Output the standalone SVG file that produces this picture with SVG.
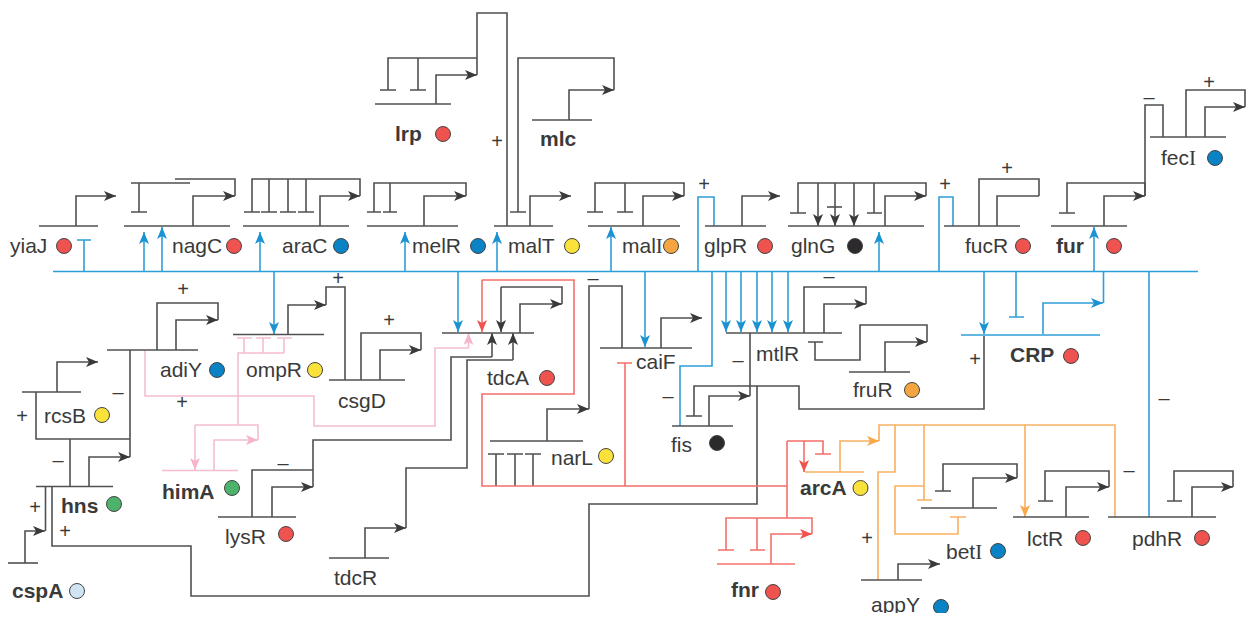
<svg xmlns="http://www.w3.org/2000/svg" width="1254" height="630" viewBox="0 0 1254 630">
<style>
text{font-family:"Liberation Sans",Arial,sans-serif;font-size:21px;fill:#3a3a3a}
.B{font-weight:bold}
.s{font-family:"Liberation Serif",serif}
.g{text-anchor:middle;font-size:20px}
path{fill:none;stroke-width:1.6;stroke-linejoin:miter}
.k{stroke:#505050}.b{stroke:#2d9fd8}.p{stroke:#f6bdd0}.r{stroke:#f4706a}.o{stroke:#f9b060}
.ka{stroke:#505050;marker-end:url(#ak)}.ba{stroke:#2d9fd8;marker-end:url(#ab)}.pa{stroke:#f6bdd0;marker-end:url(#ap)}.ra{stroke:#f4706a;marker-end:url(#ar)}.oa{stroke:#f9b060;marker-end:url(#ao)}
circle{stroke:#444;stroke-width:1}
.cr{fill:#ef5350}.cb{fill:#0a82c6}.cy{fill:#fbe23a}.co{fill:#f5a540}.cg{fill:#4db26a}.ck{fill:#2c2a2c}.cl{fill:#cfe5f4}
</style>
<defs>
<marker id="ak" markerUnits="userSpaceOnUse" markerWidth="14" markerHeight="12" refX="12" refY="6" orient="auto"><path d="M0,1 L12,6 L0,11 L3,6 Z" style="fill:#3a3a3a;stroke:none"/></marker>
<marker id="ab" markerUnits="userSpaceOnUse" markerWidth="14" markerHeight="12" refX="12" refY="6" orient="auto"><path d="M0,1 L12,6 L0,11 L3,6 Z" style="fill:#1b92d2;stroke:none"/></marker>
<marker id="ap" markerUnits="userSpaceOnUse" markerWidth="14" markerHeight="12" refX="12" refY="6" orient="auto"><path d="M0,1 L12,6 L0,11 L3,6 Z" style="fill:#f6b3ca;stroke:none"/></marker>
<marker id="ar" markerUnits="userSpaceOnUse" markerWidth="14" markerHeight="12" refX="12" refY="6" orient="auto"><path d="M0,1 L12,6 L0,11 L3,6 Z" style="fill:#f0524e;stroke:none"/></marker>
<marker id="ao" markerUnits="userSpaceOnUse" markerWidth="14" markerHeight="12" refX="12" refY="6" orient="auto"><path d="M0,1 L12,6 L0,11 L3,6 Z" style="fill:#f8a848;stroke:none"/></marker>
</defs>

<g id="connectors">
<!-- blue -->
<path class="b" d="M53 271.5H1198"/>
<path class="b" d="M84 271V240M77 240H91"/>
<path class="ba" d="M144 271V232"/>
<path class="ba" d="M162 271V227"/>
<path class="ba" d="M260 271V232"/>
<path class="ba" d="M274 271V334"/>
<path class="ba" d="M405 271V232"/>
<path class="ba" d="M458 271V332"/>
<path class="ba" d="M497 271V232"/>
<path class="ba" d="M611 271V227"/>
<path class="ba" d="M645 271V347"/>
<path class="b" d="M698 271V197H714V226"/>
<path class="b" d="M712 271V366H680V426"/>
<path class="ba" d="M726 271V332"/>
<path class="ba" d="M741 271V332"/>
<path class="ba" d="M757 271V332"/>
<path class="ba" d="M772 271V332"/>
<path class="ba" d="M788 271V332"/>
<path class="ba" d="M879 271V232"/>
<path class="b" d="M939 271V197H953V226"/>
<path class="ba" d="M984 271V334"/>
<path class="b" d="M1016 271V317M1009 317H1024"/>
<path class="ba" d="M1094 271V227"/>
<path class="ba" d="M1043 334V303H1103"/>
<path class="b" d="M1103.500 271V303"/>
<path class="b" d="M1149 271V517"/>
<!-- black: top -->
<path class="k" d="M131 183H190M139 183V212M131 212H147"/>
<path class="k" d="M175 179H235V196"/>
<path class="k" d="M360 196V179H252V212M244 212H260M269 179V212M261 212H277M288 179V212M280 212H296M306 179V212M298 212H314"/>
<path class="k" d="M466 196V183H374V212M367 212H381M390 183V212M383 212H397"/>
<path class="k" d="M507 226V13H477V75M477 58H388V90M380 90H396M418 58V90M410 90H426"/>
<path class="k" d="M518 212V58H614V90M510 212H526"/>
<path class="k" d="M684 196V183H595V212M587 212H603M625 183V212M617 212H633"/>
<path class="k" d="M926 196V183H798V213M790 213H806"/>
<path class="ka" d="M818 183V226"/>
<path class="ka" d="M835 183V226"/>
<path class="k" d="M827 207H842"/>
<path class="ka" d="M854 183V226"/>
<path class="k" d="M874 183V213M867 213H882"/>
<path class="k" d="M979 226V179H1039V196"/>
<path class="k" d="M1145 196V183H1067V213M1059 213H1075"/>
<path class="k" d="M1145 196V105H1163V137"/>
<path class="k" d="M1186 137V90H1245V107"/>
<!-- black: left -->
<path class="k" d="M157 350V303H218V320"/>
<path class="k" d="M130 350V457M36 392V439H130M70 439V486"/>
<path class="k" d="M45.500 486V531"/>
<path class="k" d="M757 386V504H589V596H191V546H52V486"/>
<path class="k" d="M326 305V287H345V380"/>
<path class="k" d="M361 380V333H421V350"/>
<path class="ka" d="M492 357V333"/>
<path class="k" d="M492 357H451V440H313V470H252V517M313 440V487"/>
<path class="ka" d="M513 360V333"/>
<path class="k" d="M513 360H467V468H406V528"/>
<path class="ka" d="M501 287V332"/>
<path class="k" d="M501 287H562V304"/>
<path class="k" d="M622 348V286H589V409"/>
<path class="k" d="M496 454V486M488 454H504M515 454V486M507 454H523M533 454V486M525 454H541"/>
<!-- black: mtlR/fis -->
<path class="k" d="M804 333V287H866V304"/>
<path class="k" d="M750 333V396"/>
<path class="k" d="M984 336V409H799V386H694V416M686 416H702"/>
<path class="k" d="M808 342H823M815 342V360H860V325H927V342"/>
<!-- black: right -->
<path class="k" d="M1017 478V464H943V491M935 491H951"/>
<path class="k" d="M1109 487V471H1045V501M1038 501H1053"/>
<path class="k" d="M1233 487V471H1174V501M1167 501H1182"/>
<!-- pink -->
<path class="pa" d="M468.500 348V333"/>
<path class="p" d="M145 350V396H314V426H435V348H468.500"/>
<path class="p" d="M244 338V353M237 338H252M263 338V353M256 338H271M284 338V353M277 338H292M284 353H238V425"/>
<path class="p" d="M195 425H258V440"/>
<path class="pa" d="M195 425V470"/>
<!-- red -->
<path class="ra" d="M482 280V332"/>
<path class="r" d="M482 280H574V394H482V486H787M625 486V363M617 363H632"/>
<path class="r" d="M787 441V518M787 441H823V454M815 454H831"/>
<path class="ra" d="M804 441V472"/>
<path class="r" d="M726 550V518H812V534M718 550H734M757 518V550M750 550H765"/>
<!-- orange -->
<path class="o" d="M879 441V425H1115V517"/>
<path class="o" d="M895 425V472H878V580"/>
<path class="o" d="M924 425V500M917 500H932M924 486H895V534H958V517M950 517H966"/>
<path class="oa" d="M1025 425V517"/>
</g>

<g id="yiaJ"><path class="k" d="M39 226H98"/><path class="ka" d="M76 226V196H116"/><text x="10" y="253">yiaJ</text><circle class="cr" cx="64" cy="246" r="7.500"/></g>
<g id="nagC"><path class="k" d="M124 226H230"/><path class="ka" d="M193 226V196H235"/><text x="172" y="253">nagC</text><circle class="cr" cx="234" cy="246" r="7.500"/></g>
<g id="araC"><path class="k" d="M243 226H349"/><path class="ka" d="M320 226V196H360"/><text x="282" y="253">araC</text><circle class="cb" cx="341" cy="246" r="7.500"/></g>
<g id="melR"><path class="k" d="M367 226H458"/><path class="ka" d="M424 226V196H466"/><text x="412" y="253">melR</text><circle class="cb" cx="478" cy="246" r="7.500"/></g>
<g id="malT"><path class="k" d="M494 226H553"/><path class="ka" d="M530 226V196H571"/><text x="508" y="253">malT</text><circle class="cy" cx="572" cy="246" r="7.500"/></g>
<g id="malI"><path class="k" d="M588 226H680"/><path class="ka" d="M643 226V196H684"/><text x="622" y="253">mal<tspan class="s">I</tspan></text><circle class="co" cx="671" cy="246" r="7.500"/></g>
<g id="glpR"><path class="k" d="M705 226H766"/><path class="ka" d="M742 226V196H780"/><text x="704" y="253">glpR</text><circle class="cr" cx="765" cy="246" r="7.500"/></g>
<g id="glnG"><path class="k" d="M788 226H924"/><path class="ka" d="M885 226V196H926"/><text x="791" y="253">glnG</text><circle class="ck" cx="855" cy="246" r="7.500"/></g>
<g id="fucR"><path class="k" d="M944 226H1020"/><path class="k" d="M997 226V196H1039"/><text x="965" y="253">fucR</text><circle class="cr" cx="1023" cy="246" r="7.500"/></g>
<g id="fur"><path class="k" d="M1051 226H1127"/><path class="ka" d="M1104 226V196H1145"/><text class="B" x="1056" y="253">fur</text><circle class="cr" cx="1114" cy="246" r="7.500"/></g>
<g id="fecI"><path class="k" d="M1150 137H1226"/><path class="ka" d="M1205 137V107H1245"/><text x="1161" y="165">fec<tspan class="s">I</tspan></text><circle class="cb" cx="1215" cy="158" r="7.500"/></g>
<g id="lrp"><path class="k" d="M375 104H451"/><path class="ka" d="M436 104V75H477"/><text class="B" x="395" y="141">lrp</text><circle class="cr" cx="443" cy="134" r="7.500"/></g>
<g id="mlc"><path class="k" d="M532 120H592"/><path class="ka" d="M569 120V90H614"/><text class="B" x="540" y="146">mlc</text></g>
<g id="adiY"><path class="k" d="M107 350H198"/><path class="ka" d="M176 350V320H218"/><text x="160" y="377">adiY</text><circle class="cb" cx="217" cy="370" r="7.500"/></g>
<g id="ompR"><path class="k" d="M233 334.500H324"/><path class="ka" d="M288 334.500V305H326"/><text x="246" y="377">ompR</text><circle class="cy" cx="315" cy="370" r="7.500"/></g>
<g id="csgD"><path class="k" d="M329 380H405"/><path class="ka" d="M380 380V350H421"/><text x="338" y="408">csgD</text></g>
<g id="rcsB"><path class="k" d="M22 392H81"/><path class="ka" d="M57 392V362H98"/><text x="44" y="423">rcsB</text><circle class="cy" cx="102" cy="415" r="7.500"/></g>
<g id="hns"><path class="k" d="M36 486.500H113"/><path class="ka" d="M89 486V457H130"/><text class="B" x="61" y="513">hns</text><circle class="cg" cx="114" cy="504" r="7.500"/></g>
<g id="cspA"><path class="k" d="M8 563H38"/><path class="ka" d="M25 563V531H45"/><text class="B" x="12" y="598">cspA</text><circle class="cl" cx="77" cy="591" r="7.500"/></g>
<g id="himA"><path class="p" d="M162 470.500H238"/><path class="pa" d="M214 470V440H258"/><text class="B" x="162" y="499">himA</text><circle class="cg" cx="232" cy="488" r="7.500"/></g>
<g id="lysR"><path class="k" d="M218 517H296"/><path class="ka" d="M272 517V487H313"/><text x="225" y="544">lysR</text><circle class="cr" cx="286" cy="534" r="7.500"/></g>
<g id="tdcR"><path class="k" d="M329 558H389"/><path class="ka" d="M365 558V528H406"/><text x="334" y="585">tdcR</text></g>
<g id="tdcA"><path class="k" d="M442 333H534"/><path class="ka" d="M520 333V304H562"/><text x="487" y="385">tdcA</text><circle class="cr" cx="547" cy="378" r="7.500"/></g>
<g id="caiF"><path class="k" d="M600 348H692"/><path class="ka" d="M661 348V318H702"/><text x="636" y="369">caiF</text></g>
<g id="narL"><path class="k" d="M490 441H583"/><path class="ka" d="M547 441V409H589"/><text x="551" y="465">narL</text><circle class="cy" cx="606" cy="456" r="7.500"/></g>
<g id="fis"><path class="k" d="M672 426H733"/><path class="ka" d="M709 426V396H750"/><text x="671" y="452">fis</text><circle class="ck" cx="717" cy="443" r="7.500"/></g>
<g id="mtlR"><path class="k" d="M726 333H842"/><path class="ka" d="M824 333V304H866"/><text x="756" y="361">mtlR</text></g>
<g id="fruR"><path class="k" d="M849 372H910"/><path class="ka" d="M885 372V342H927"/><text x="853" y="397">fruR</text><circle class="co" cx="912" cy="390" r="7.500"/></g>
<g id="CRP"><path class="b" d="M961 335H1100"/><text class="B" x="1010" y="362">CRP</text><circle class="cr" cx="1071" cy="356" r="7.500"/></g>
<g id="arcA"><path class="o" d="M805 472H864"/><path class="oa" d="M840 472V441H879"/><text class="B" x="800" y="495">arcA</text><circle class="cy" cx="860.500" cy="488" r="7.500"/></g>
<g id="fnr"><path class="r" d="M717 564H795"/><path class="ra" d="M771 564V534H812"/><text class="B" x="731" y="597">fnr</text><circle class="cr" cx="773" cy="592" r="7.500"/></g>
<g id="betI"><path class="k" d="M921 508H997"/><path class="ka" d="M973 508V478H1017"/><text x="946" y="559">bet<tspan class="s">I</tspan></text><circle class="cb" cx="998" cy="551" r="7.500"/></g>
<g id="lctR"><path class="k" d="M1013 517H1089"/><path class="ka" d="M1066 517V487H1109"/><text x="1027" y="546">lctR</text><circle class="cr" cx="1083" cy="538" r="7.500"/></g>
<g id="pdhR"><path class="k" d="M1108 517H1216"/><path class="ka" d="M1192 517V487H1233"/><text x="1132" y="546">pdhR</text><circle class="cr" cx="1202" cy="538" r="7.500"/></g>
<g id="appY"><path class="k" d="M861 580H922"/><path class="ka" d="M898 580V564H940"/><text x="871" y="612">appY</text><circle class="cb" cx="941" cy="607" r="7.500"/><rect x="860" y="613" width="100" height="17" fill="#fff"/></g>

<g id="signs">
<text class="g" x="497" y="148">+</text>
<text class="g" x="704" y="191">+</text>
<text class="g" x="945" y="191">+</text>
<text class="g" x="1007" y="175">+</text>
<text class="g" x="1209" y="89">+</text>
<text class="g" x="1149" y="104">–</text>
<text class="g" x="183" y="296">+</text>
<text class="g" x="338" y="285">+</text>
<text class="g" x="389" y="327">+</text>
<text class="g" x="182" y="409">+</text>
<text class="g" x="22" y="423">+</text>
<text class="g" x="118" y="399">–</text>
<text class="g" x="58" y="467">–</text>
<text class="g" x="35" y="514">+</text>
<text class="g" x="65" y="538">+</text>
<text class="g" x="283" y="470">–</text>
<text class="g" x="593" y="285">–</text>
<text class="g" x="668" y="403">–</text>
<text class="g" x="738" y="367">–</text>
<text class="g" x="829" y="283">–</text>
<text class="g" x="975" y="366">+</text>
<text class="g" x="1164" y="405">–</text>
<text class="g" x="1129" y="477">–</text>
<text class="g" x="867" y="545">+</text>
</g>
</svg>
